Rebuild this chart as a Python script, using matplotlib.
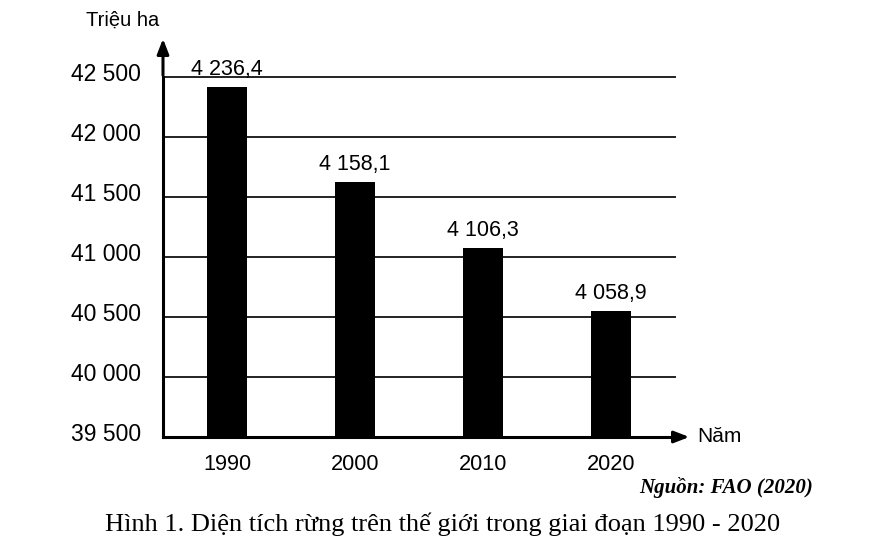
import matplotlib.pyplot as plt
from matplotlib.transforms import ScaledTranslation

years = ['1990', '2000', '2010', '2020']
area = [42420, 41625, 41075, 40550]
bar_labels = ['4 236,4', '4 158,1', '4 106,3', '4 058,9']
yticks = [39500, 40000, 40500, 41000, 41500, 42000, 42500]
ytick_labels = ['39 500', '40 000', '40 500', '41 000', '41 500', '42 000', '42 500']

plt.rcParams['font.family'] = ['Liberation Sans', 'DejaVu Sans']

W, H = 871, 542
fig = plt.figure(figsize=(8.71, 5.42), dpi=100)
ax = fig.add_axes([163 / W, 1 - 437 / H, (675 - 163) / W, (437 - 77) / H])

x = range(len(years))
ax.bar(x, area, width=0.32, color='black', zorder=3)
for i in x:
    ax.annotate(bar_labels[i], (i, area[i]), xytext=(0, 5), textcoords='offset points',
                ha='center', va='bottom', fontsize=15.5)

ax.set_xlim(-0.5, 3.5)
ax.set_ylim(39500, 42500)
ax.set_yticks(yticks)
ax.set_yticklabels(ytick_labels, fontsize=16.5)
ax.set_xticks(list(x))
ax.set_xticklabels(years, fontsize=15.7)
ax.tick_params(axis='both', length=0)
ax.tick_params(axis='y', pad=16)
ax.tick_params(axis='x', pad=12)
# tick labels sit a little above their gridlines in the original
shift = ScaledTranslation(0, 5 / 100, fig.dpi_scale_trans)
for lbl in ax.get_yticklabels():
    lbl.set_transform(lbl.get_transform() + shift)
for y in yticks[1:]:
    ax.axhline(y, color='#222222', lw=1.4, zorder=1, clip_on=False)
for s in ['top', 'right']:
    ax.spines[s].set_visible(False)
ax.spines['left'].set_linewidth(2.2)
ax.spines['bottom'].set_linewidth(2.2)

# axis arrows
ax.annotate('', xy=(163 / W, 1 - 36 / H), xytext=(163 / W, 1 - 78 / H), xycoords='figure fraction',
            arrowprops=dict(arrowstyle='-|>,head_length=0.9,head_width=0.35', color='black', lw=2.2))
ax.annotate('', xy=(692 / W, 1 - 437 / H), xytext=(674 / W, 1 - 437 / H), xycoords='figure fraction',
            arrowprops=dict(arrowstyle='-|>,head_length=0.9,head_width=0.35', color='black', lw=2.2))

fig.text(123 / W, 1 - 20 / H, 'Triệu ha', ha='center', va='center', fontsize=14.5)
fig.text(697 / W, 1 - 436 / H, 'Năm', ha='left', va='center', fontsize=15)
fig.text(813 / W, 1 - 487 / H, 'Nguồn: FAO (2020)', ha='right', va='center', fontsize=15,
         family=['Liberation Serif', 'DejaVu Serif'], style='italic', weight='bold')
fig.text(443 / W, 1 - 524 / H, 'Hình 1. Diện tích rừng trên thế giới trong giai đoạn 1990 - 2020',
         ha='center', va='center', fontsize=19, family=['Liberation Serif', 'DejaVu Serif'])

fig.savefig('out.png', dpi=100)
